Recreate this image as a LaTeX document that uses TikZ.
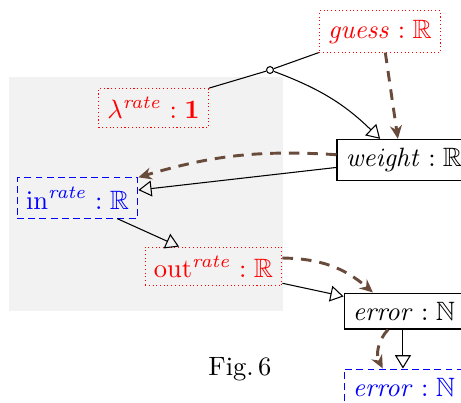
\documentclass[tikz,border=0pt]{standalone}
\usepackage{amsmath,amssymb}
\usetikzlibrary{arrows.meta,calc}
\definecolor{dbrown}{RGB}{105,75,60}
\tikzset{
  redbox/.style={draw=red,densely dotted,line width=0.4pt,text=red,inner sep=3.33pt},
  bluebox/.style={draw=blue,dash pattern=on 2.6pt off 1.6pt,line width=0.4pt,text=blue,inner sep=3.33pt},
  blackbox/.style={draw=black,inner sep=3.33pt},
  tri/.style={-{Triangle[open,length=5pt,width=6pt]},line width=0.4pt},
  brownarr/.style={draw=dbrown,dash pattern=on 4pt off 3pt,line width=1.1pt,-{Stealth[length=5pt,width=4.5pt]}},
}
\begin{document}
\begin{tikzpicture}[x=0.377pt,y=-0.377pt]
\useasboundingbox (0,0) rectangle (461,402);
\clip (0,0) rectangle (461,402);
\fill[black!5] (9,77) rectangle (283,311);
\node[redbox] (guess) at (380,31.5) {$\mathit{guess}:\mathbb{R}$};
\node[redbox] (lambda) at (153.5,108) {$\lambda^{\mathit{rate}}:\mathbf{1}$};
\node[blackbox] (weight) at (404,160) {$\mathit{weight}:\mathbb{R}$};
\node[bluebox] (in) at (77.5,198) {$\mathrm{in}^{\mathit{rate}}:\mathbb{R}$};
\node[redbox] (out) at (213.5,266.5) {$\mathrm{out}^{\mathit{rate}}:\mathbb{R}$};
\node[blackbox] (error) at (404,311) {$\mathit{error}:\mathbb{N}$};
\node[bluebox] (error2) at (404,387) {$\mathit{error}:\mathbb{N}$};
\node (fig) at (240,369) {Fig.\,6};
\node[circle,draw,fill=white,inner sep=0pt,minimum size=2.6pt] (join) at (270,70) {};
% connectors
\draw (lambda.north east) -- (join);
\draw (guess.south west) -- (join);
\draw[tri] (join) to[bend left=12] ([xshift=-9pt]weight.north);
\draw[brownarr] ([xshift=2pt]guess.south) -- ([xshift=-2.3pt]weight.north);
\draw[brownarr] ([yshift=2pt]weight.west) to[bend right=10] (in.north east);
\draw[tri] ([yshift=-2.8pt]weight.west) -- ([yshift=3pt]in.east);
\draw[tri] ([xshift=15pt]in.south) -- ([xshift=-13pt]out.north);
\draw[tri] ([yshift=1.2pt]out.south east) -- ([yshift=5.5pt]error.west);
\draw[brownarr] ([yshift=3.2pt]out.east) to[bend left=20] ([xshift=-11.7pt]error.north);
\draw[tri] ([xshift=-0.4pt]error.south) -- ([xshift=-0.4pt]error2.north);
\draw[brownarr] ([xshift=-6pt]error.south) to[bend right=35] ([xshift=-8pt]error2.north);
\end{tikzpicture}
\end{document}
